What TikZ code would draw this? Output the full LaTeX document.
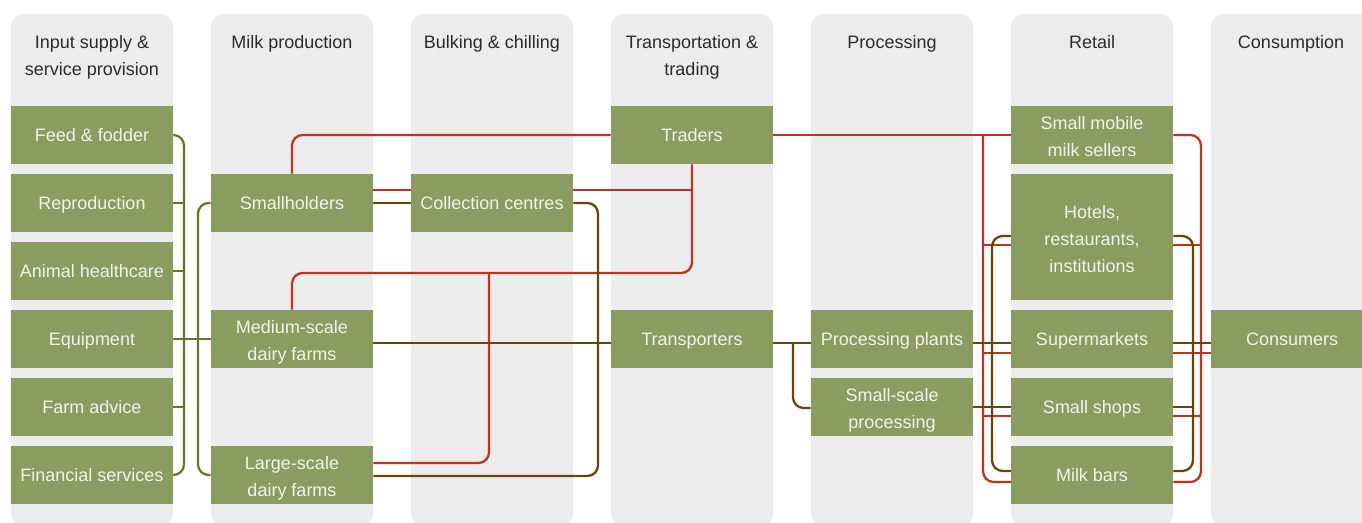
\documentclass[tikz,border=0pt]{standalone}
\usepackage{fontspec}
\setmainfont{Liberation Sans}
\usetikzlibrary{calc}
\definecolor{colgray}{HTML}{ECECEC}
\definecolor{boxgreen}{HTML}{8A9C60}
\definecolor{lred}{HTML}{C2331D}
\definecolor{lbrown}{HTML}{6A4407}
\definecolor{lgreen}{HTML}{5C7A28}
\definecolor{boxtext}{HTML}{F3F3EC}
\definecolor{headtext}{HTML}{2B2B2B}
\pgfdeclarelayer{cols}
\pgfdeclarelayer{links}
\pgfsetlayers{cols,links,main}
\newcommand{\mlines}[1]{\raisebox{-2pt}[\height][\depth]{\begin{tabular}{@{}c@{}}#1\end{tabular}}}
\begin{document}
\begin{tikzpicture}[x=0.75pt,y=-0.75pt,
  box/.style={fill=boxgreen, text=boxtext, minimum width=121.5pt, minimum height=43.5pt, inner sep=0pt, align=center, font=\fontsize{13.5}{20.25}\selectfont,
    execute at begin node={\rule{0pt}{12.3pt}}, execute at end node={\vphantom{g}}},
  head/.style={text=headtext, align=center, anchor=north, inner sep=0pt, font=\fontsize{13.5}{20.25}\selectfont},
  column/.style={fill=colgray, rounded corners=9pt},
  link/.style={line width=1.7pt, rounded corners=8pt},
  rl/.style={link, draw=lred},
  bl/.style={link, draw=lbrown},
  gl/.style={link, draw=lgreen}]
\useasboundingbox (0,0) rectangle (1362,523);
\clip (0,0) rectangle (1362,523);

% columns
\begin{pgfonlayer}{cols}
\clip (0,0) rectangle (1362,523);
\foreach \x in {11,211,411,611,811,1011,1211}
  \fill[column] (\x,14) rectangle ++(162,512);
\end{pgfonlayer}

% headers
\node[head] (h1) at (92,35) {Input supply \&\\service provision};
\node[head] (h2) at (292,35) {Milk production};
\node[head] (h3) at (492,35) {Bulking \& chilling};
\node[head] (h4) at (692,35) {Transportation \&\\trading};
\node[head] (h5) at (892,35) {Processing};
\node[head] (h6) at (1092,35) {Retail};
\node[head] (h7) at (1291,35) {Consumption};

% boxes
\node[box] (ff) at (92,135) {Feed \& fodder};
\node[box] (rep) at (92,203) {Reproduction};
\node[box] (ah) at (92,271) {Animal healthcare};
\node[box] (eq) at (92,339) {Equipment};
\node[box] (fa) at (92,407) {Farm advice};
\node[box] (fs) at (92,475) {Financial services};
\node[box] (sh) at (292,203) {Smallholders};
\node[box] (ms) at (292,339) {\mlines{Medium-scale\\dairy farms}};
\node[box] (ls) at (292,475) {\mlines{Large-scale\\dairy farms}};
\node[box] (cc) at (492,203) {Collection centres};
\node[box] (tr) at (692,135) {Traders};
\node[box] (tp) at (692,339) {Transporters};
\node[box] (pp) at (892,339) {Processing plants};
\node[box] (ssp) at (892,407) {\mlines{Small-scale\\processing}};
\node[box] (smm) at (1092,135) {\mlines{Small mobile\\milk sellers}};
\node[box, minimum height=94.5pt] (hri) at (1092,237) {\mlines{Hotels,\\restaurants,\\institutions}};
\node[box] (sm) at (1092,339) {Supermarkets};
\node[box] (sso) at (1092,407) {Small shops};
\node[box] (mb) at (1092,475) {Milk bars};
\node[box] (con) at (1292,339) {Consumers};

% bus coordinates
\coordinate (gb1) at (184,0);
\coordinate (gb2) at (198,0);
\coordinate (rj) at (489,273);
\coordinate (bv) at (598,0);
\coordinate (bj) at (793,343);
\coordinate (rL) at (983,0);
\coordinate (rR) at (1201,0);
\coordinate (bL) at (992,0);
\coordinate (bR) at (1193,0);

\begin{pgfonlayer}{links}
% green
\draw[gl] (ff.east) -- (ff.east -| gb1) -- (fs.east -| gb1) -- (fs.east);
\foreach \n in {rep,ah,fa} \draw[gl] (\n.east) -- (\n.east -| gb1);
\draw[gl] (eq.east) -- (ms.west);
\draw[gl] (sh.west) -- (sh.west -| gb2) -- (ls.west -| gb2) -- (ls.west);

% red
\draw[rl] (sh.north) -- (sh.north |- tr.west) -- (tr.west);
\draw[rl] (sh.east |- 0,190) -- (cc.west |- 0,190);
\draw[rl] (cc.east |- 0,190) -- (tr.south |- 0,190);
\draw[rl] (ms.north) -- (ms.north |- rj) -- (tr.south |- rj) -- (tr.south);
\draw[rl] (ls.east |- 0,463) -- (rj |- 0,463) -- (rj);
\draw[rl] (tr.east) -- (smm.west);
\draw[rl] (rL |- tr.east) -- (rL |- 0,482) -- (mb.west |- 0,482);
\draw[rl] (rL |- 0,245) -- (hri.west |- 0,245);
\draw[rl] (rL |- 0,353) -- (sm.west |- 0,353);
\draw[rl] (rL |- 0,416) -- (sso.west |- 0,416);
\draw[rl] (smm.east) -- (smm.east -| rR) -- (rR |- 0,482) -- (mb.east |- 0,482);
\draw[rl] (hri.east |- 0,245) -- (rR |- 0,245);
\draw[rl] (sm.east |- 0,353) -- (con.west |- 0,353);
\draw[rl] (sso.east |- 0,416) -- (rR |- 0,416);

% brown
\draw[bl] (sh.east) -- (cc.west);
\draw[bl] (cc.east) -- (cc.east -| bv) -- (bv |- 0,476) -- (ls.east |- 0,476);
\draw[bl] (ms.east |- 0,343) -- (tp.west |- 0,343);
\draw[bl] (tp.east |- 0,343) -- (pp.west |- 0,343);
\draw[bl] (bj) -- (bj |- 0,408) -- (ssp.west |- 0,408);
\draw[bl] (pp.east |- 0,343) -- (sm.west |- 0,343);
\draw[bl] (ssp.east |- 0,407) -- (sso.west |- 0,407);
\draw[bl] (hri.west |- 0,236) -- (bL |- 0,236) -- (bL |- 0,471) -- (mb.west |- 0,471);
\draw[bl] (hri.east |- 0,236) -- (bR |- 0,236) -- (bR |- 0,471) -- (mb.east |- 0,471);
\draw[bl] (sm.east |- 0,343) -- (con.west |- 0,343);
\draw[bl] (sso.east |- 0,407) -- (bR |- 0,407);
\end{pgfonlayer}
\end{tikzpicture}
\end{document}
